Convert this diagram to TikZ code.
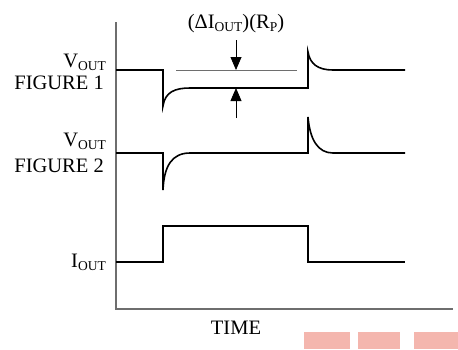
\documentclass[tikz,border=0pt]{standalone}
\usepackage{fontspec}
\setmainfont{Liberation Serif}
\usetikzlibrary{arrows.meta}
\newcommand{\subtxt}[1]{\raisebox{-0.35ex}{\fontsize{13.5}{14}\selectfont #1}}
\definecolor{axisgray}{HTML}{6E6E6E}
\definecolor{markpink}{HTML}{F4B6AE}
\tikzset{
  lbl/.style={inner sep=0pt,font=\fontsize{20.5}{24}\selectfont},
  trace/.style={line width=1.6pt,line join=miter},
  dimarrow/.style={line width=0.8pt,-{Triangle[length=13pt,width=11pt]}}
}
\begin{document}
\begin{tikzpicture}[x=1pt,y=-1pt]
  \useasboundingbox[fill=white] (0,0) rectangle (458,349);
  \draw[axisgray,line width=1.3pt] (116,22) -- (116,309) -- (453,309);
  \node[lbl,anchor=base east] (v1) at (106,67) {V\subtxt{OUT}};
  \node[lbl,anchor=base east] (f1) at (104,89) {FIGURE 1};
  \node[lbl,anchor=base east] (v2) at (106,146) {V\subtxt{OUT}};
  \node[lbl,anchor=base east] (f2) at (104,172) {FIGURE 2};
  \node[lbl,anchor=base east] (io) at (106,267) {I\subtxt{OUT}};
  \node[lbl,anchor=base] (drop) at (236,28) {(ΔI\subtxt{OUT})(R\subtxt{P})};
  \node[lbl,anchor=base] (time) at (236,334) {TIME};
  \draw[axisgray,line width=0.8pt] (176,70) -- (297,70);
  \coordinate (dtop) at (236,40);
  \coordinate (dref) at (236,70);
  \coordinate (ubot) at (236,118);
  \coordinate (ulev) at (236,88);
  \draw[dimarrow] (dtop) -- (dref);
  \draw[dimarrow] (ubot) -- (ulev);
  \draw[trace] (116,70) -- (163,70) -- (163,106)
    .. controls (165,92) and (175,88) .. (190,88) -- (308,88) -- (308,52)
    .. controls (310,64) and (318,70) .. (333,70) -- (405,70);
  \draw[trace] (116,153) -- (163,153) -- (163,190)
    .. controls (164,166) and (172,153) .. (190,153) -- (308,153) -- (308,117)
    .. controls (310,140) and (318,153) .. (333,153) -- (405,153);
  \draw[trace] (116,262) -- (163,262) -- (163,226) -- (308,226) -- (308,262) -- (405,262);
  \fill[markpink] (304,332) rectangle (350,349);
  \fill[markpink] (358,332) rectangle (400,349);
  \fill[markpink] (414,332) rectangle (458,349);
\end{tikzpicture}
\end{document}
